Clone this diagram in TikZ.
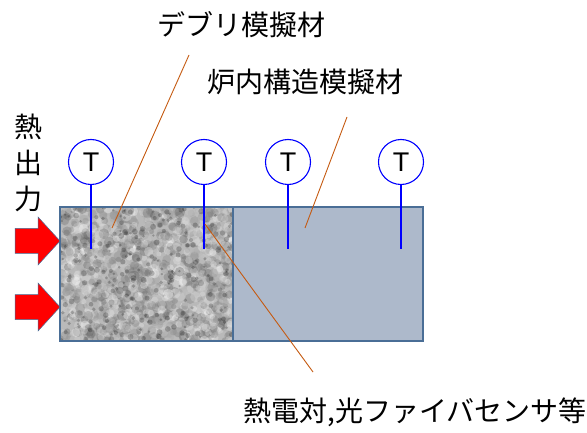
\documentclass[tikz,border=0pt]{standalone}
\usepackage{fontspec}
\setmainfont{Liberation Sans}
\newfontfamily\jp{Noto Sans CJK JP}

\definecolor{blockline}{HTML}{4A6E96}
\definecolor{structfill}{HTML}{ADB9CB}
\definecolor{leadcol}{HTML}{C55A11}
\definecolor{arrowline}{HTML}{41719C}

\tikzset{
  heat/.pic={
    \filldraw [fill=red, draw=arrowline, line width=0.5pt]
      (-22.5,-12.5) -- (0.5,-12.5) -- (0.5,-24) -- (22.5,0) -- (0.5,24)
      -- (0.5,12.5) -- (-22.5,12.5) -- cycle;
  }
}

\begin{document}
\begin{tikzpicture}[x=1pt, y=-1pt,
    label text/.style={font=\jp\fontsize{28}{36}\selectfont, inner sep=0pt},
    block/.style={draw=blockline, line width=1.4pt, inner sep=0pt, minimum height=134pt},
    sensor/.style={circle, draw=blue, line width=1.1pt, minimum size=45pt, inner sep=0pt, font=\fontsize{27}{27}\selectfont},
    wire/.style={blue, line width=1.2pt},
    leader/.style={leadcol, line width=0.9pt}]
    \useasboundingbox (0,0) rectangle (587,433);

    % debris texture
    \pgfmathsetseed{12}
    \begin{scope}
      \clip (60,207) rectangle (233,341);
      \fill[gray!55] (60,207) rectangle (233,341);
      \foreach \i in {1,...,1300}{
        \pgfmathsetmacro{\px}{60+173*rnd}
        \pgfmathsetmacro{\py}{207+134*rnd}
        \pgfmathsetmacro{\sh}{35+65*rnd}
        \pgfmathsetmacro{\rr}{2.5+3*rnd}
        \fill[white!\sh!black, opacity=0.35] (\px,\py) circle (\rr pt);
      }
      \foreach \i in {1,...,250}{
        \pgfmathsetmacro{\px}{60+173*rnd}
        \pgfmathsetmacro{\py}{207+134*rnd}
        \pgfmathsetmacro{\rr}{1.2+1.8*rnd}
        \fill[black, opacity=0.22] (\px,\py) circle (\rr pt);
      }
    \end{scope}

    \node [block, minimum width=173pt] (debris) at (146.5,274) {};
    \node [block, fill=structfill, minimum width=190pt] (struct) at (328,274) {};

    % sensors
    \node [sensor] (t1) at (91,162) {T};
    \node [sensor] (t2) at (204,162) {T};
    \node [sensor] (t3) at (288,162) {T};
    \node [sensor] (t4) at (401,162) {T};
    \coordinate (e1) at (91,249);
    \coordinate (e2) at (204,249);
    \coordinate (e3) at (288,249);
    \coordinate (e4) at (401,249);
    \foreach \n in {1,...,4}
      \draw [wire] (t\n.south) -- (e\n);

    % heat input
    \pic (h1) at (37.5,241) {heat};
    \pic (h2) at (37.5,307) {heat};
    \node [label text, align=center] (heatlbl) at (28,163) {熱\\出\\力};

    % labels
    \node [label text] (lbldebris) at (241,25) {デブリ模擬材};
    \node [label text] (lblstruct) at (305,82) {炉内構造模擬材};
    \node [label text] (lblsensor) at (415,412) {熱電対,光ファイバセンサ等};
    \coordinate (d0) at (189,55);
    \coordinate (d1) at (112,228);
    \coordinate (s0) at (347,117);
    \coordinate (s1) at (305,228);
    \coordinate (p0) at (205,224);
    \coordinate (p1) at (313,372);
    \path [leader]
      (d0) edge (d1)
      (s0) edge (s1)
      (p0) edge (p1);
\end{tikzpicture}
\end{document}
